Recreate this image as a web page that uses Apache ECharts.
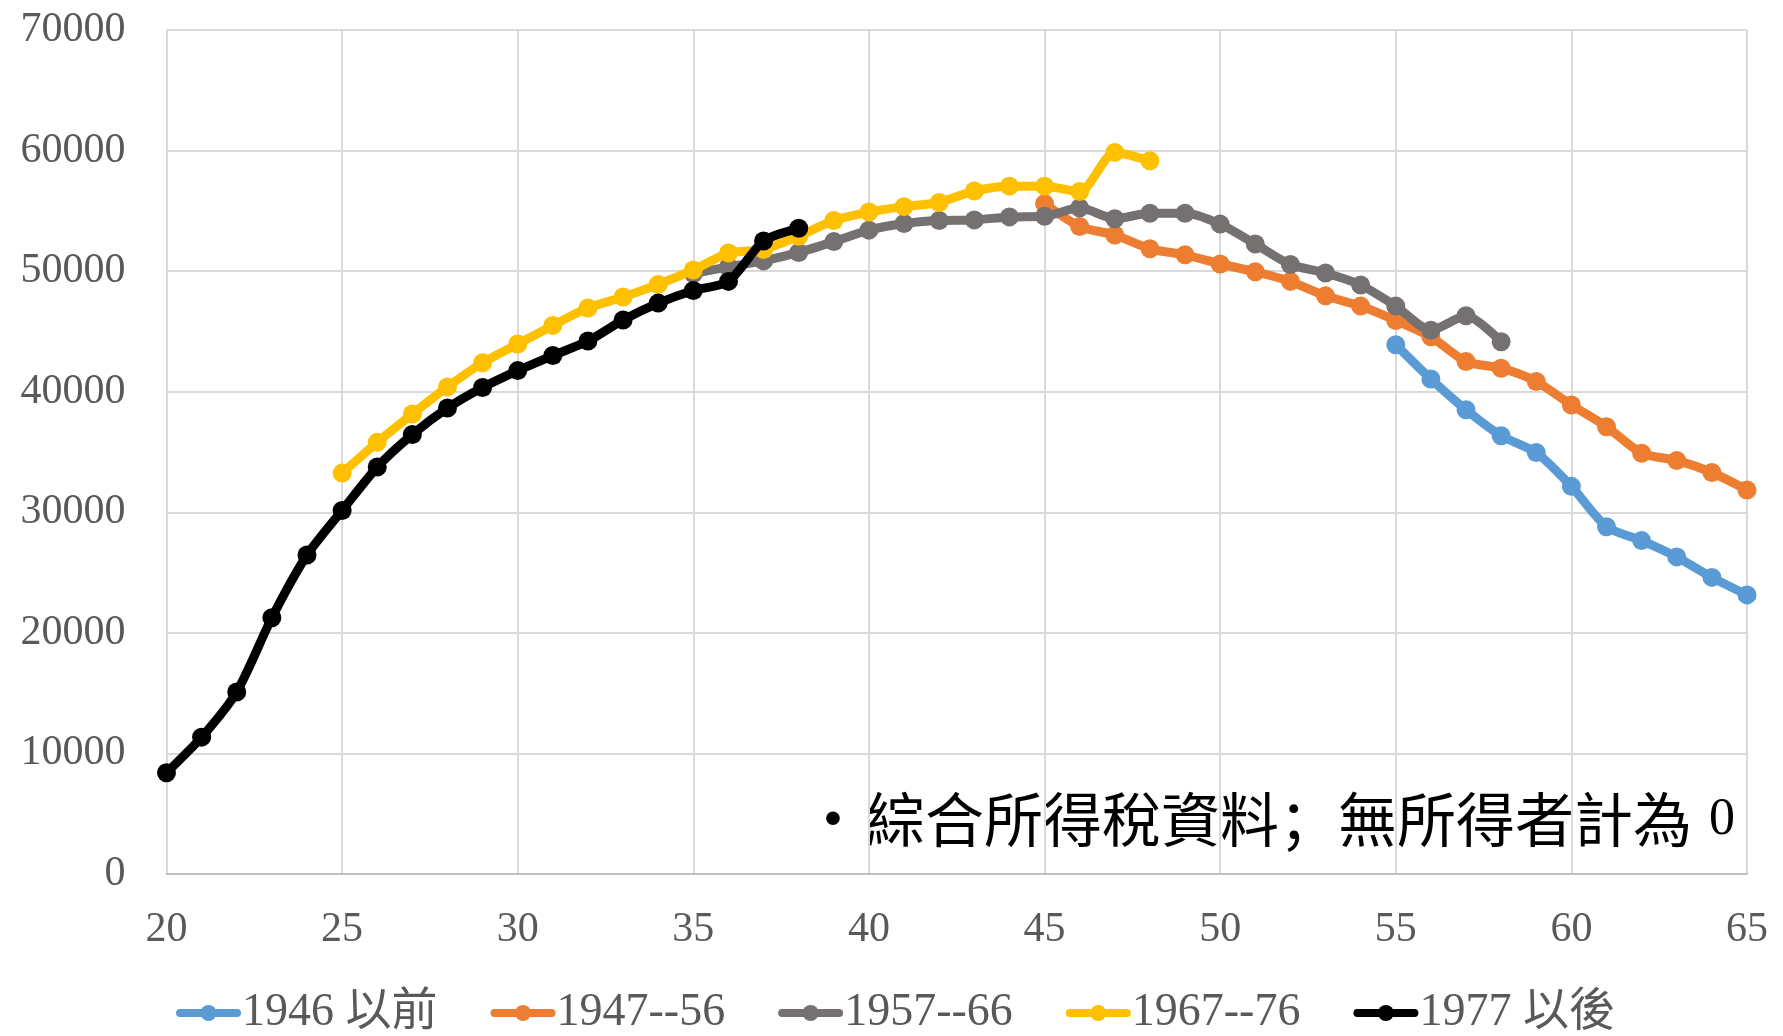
<!DOCTYPE html>
<html>
<head>
<meta charset="utf-8">
<script src="https://cdn.jsdelivr.net/npm/echarts@6/dist/echarts.min.js"></script>
<style>
  html, body { margin: 0; padding: 0; background: #ffffff; }
  #chart { width: 1783px; height: 1036px; }
</style>
</head>
<body>
<div id="chart"></div>
<script>
// Average income by age, per birth cohort (ages 20–65)
const seriesNames = ['1946 以前', '1947--56', '1957--66', '1967--76', '1977 以後'];
const seriesColors = ['#5B9BD5', '#ED7D31', '#767171', '#FFC000', '#000000'];

// first age of each cohort's line
const startAges = [55, 45, 35, 25, 20];

// values per year of age, starting at the matching start age
const cohort1946 = [43900, 41050, 38500, 36350, 34950, 32150, 28800, 27650, 26300, 24600, 23150];
const cohort1947 = [55600, 53700, 53000, 51850, 51350, 50600, 49950, 49150, 47950, 47100, 45900,
                    44550, 42500, 41950, 40850, 38900, 37100, 34900, 34300, 33300, 31850];
const cohort1957 = [49800, 50350, 50850, 51550, 52450, 53400, 53950, 54200, 54250, 54500, 54550,
                    55250, 54350, 54800, 54800, 53900, 52250, 50550, 49850, 48850, 47100, 45100,
                    46300, 44150];
const cohort1967 = [33250, 35800, 38150, 40400, 42400, 43950, 45500, 46950, 47850, 48900, 50100,
                    51500, 51800, 52900, 54200, 54900, 55350, 55700, 56650, 57050, 57050, 56600,
                    59850, 59150];
const cohort1977 = [8400, 11350, 15100, 21250, 26450, 30150, 33750, 36450, 38650, 40350, 41750,
                    43000, 44200, 45950, 47350, 48400, 49150, 52500, 53550];

const cohortValues = [cohort1946, cohort1947, cohort1957, cohort1967, cohort1977];

// axis ticks
const xMin = 20, xMax = 65, xStep = 5;
const yMin = 0, yMax = 70000, yStep = 10000;

// footnote pieces
const notePartA = '綜合所得稅資料';
const noteSep = '；';
const notePartB = '無所得者計為';
const noteZero = '0';

const serif = '"Liberation Serif", "Noto Sans CJK TC", serif';
const cjk = '"Noto Sans CJK TC", sans-serif';
const labelGrey = '#595959';

const chart = echarts.init(document.getElementById('chart'), null, { renderer: 'canvas' });

const series = cohortValues.map((vals, k) => ({
  name: seriesNames[k],
  type: 'line',
  data: vals.map((v, i) => [startAges[k] + i, v]),
  smooth: 0.25,
  symbol: 'circle',
  symbolSize: 19,
  showSymbol: true,
  lineStyle: { width: 9, color: seriesColors[k], cap: 'round', join: 'round' },
  itemStyle: { color: seriesColors[k] },
  emphasis: { disabled: true },
  z: 2 + k
}));

chart.setOption({
  animation: false,
  backgroundColor: '#ffffff',
  grid: { left: 166.5, right: 36, top: 30, bottom: 162, containLabel: false },
  xAxis: {
    type: 'value',
    min: xMin, max: xMax, interval: xStep,
    axisLine: { show: true, lineStyle: { color: '#BFBFBF', width: 2 } },
    axisTick: { show: false },
    splitLine: { show: true, lineStyle: { color: '#D9D9D9', width: 2 } },
    axisLabel: { fontFamily: serif, fontSize: 42, color: labelGrey, margin: 35 }
  },
  yAxis: {
    type: 'value',
    min: yMin, max: yMax, interval: yStep,
    axisLine: { show: false },
    axisTick: { show: false },
    splitLine: { show: true, lineStyle: { color: '#D9D9D9', width: 2 } },
    axisLabel: {
      fontFamily: serif, fontSize: 42, color: labelGrey, margin: 41,
      formatter: v => String(v)
    }
  },
  legend: {
    data: seriesNames,
    left: 171,
    top: 985,
    itemWidth: 57,
    itemHeight: 20,
    itemGap: 53,
    lineStyle: { width: 8, cap: 'round' },
    textStyle: { fontFamily: serif, fontSize: 46, color: labelGrey }
  },
  graphic: [
    {
      type: 'text',
      x: 833, y: 818,
      style: {
        text: '●', fill: '#000000',
        font: '15px "Noto Sans CJK TC", sans-serif',
        align: 'center', verticalAlign: 'middle'
      }
    },
    {
      type: 'text',
      x: 866, y: 820,
      style: {
        text: '{a|' + notePartA + '}{s|' + noteSep + '}{a|' + notePartB + '}{b|' + noteZero + '}',
        verticalAlign: 'middle',
        align: 'left',
        rich: {
          a: { fontFamily: cjk, fontSize: 59, fill: '#000000' },
          s: { fontFamily: '"Noto Sans CJK SC", sans-serif', fontSize: 59, fill: '#000000' },
          b: { fontFamily: '"Liberation Serif", serif', fontSize: 52, fill: '#000000', padding: [0, 0, 0, 17] }
        }
      }
    }
  ],
  series: series
});
</script>
</body>
</html>
